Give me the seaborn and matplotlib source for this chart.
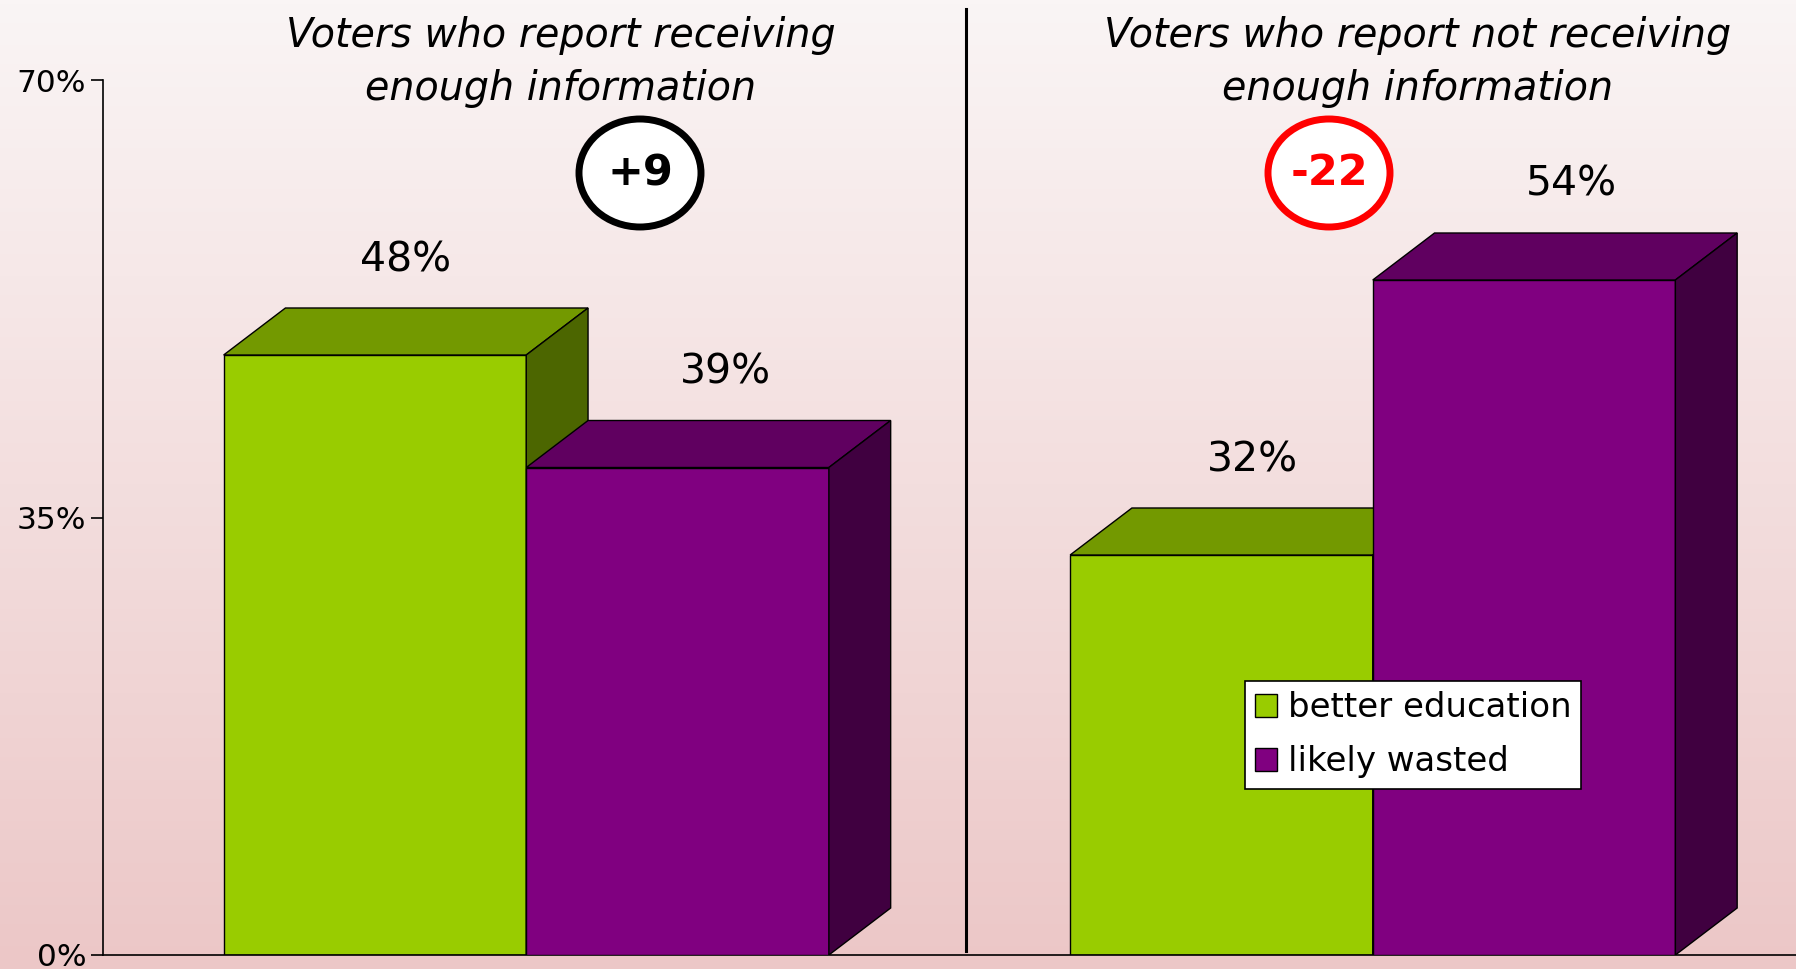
import numpy as np
import pandas as pd
import matplotlib
matplotlib.use('Agg')
import matplotlib.pyplot as plt
import seaborn as sns
from matplotlib.patches import Polygon, Ellipse, Patch
from matplotlib.colors import LinearSegmentedColormap

plt.rcParams['font.family'] = ['DejaVu Sans']

# data
groups = ['Voters who report receiving\nenough information',
          'Voters who report not receiving\nenough information']
series = ['better education', 'likely wasted']
better_education = [48, 32]
likely_wasted = [39, 54]
diff_labels = ['+9', '-22']
diff_colors = ['black', 'red']
yticks = [0, 35, 70]

# colours: front / top / side faces of the 3d bars
front_colors = ['#99CC00', '#800080']
top_colors = ['#739900', '#600060']
side_colors = ['#4C6600', '#400040']
label_shift = [0.0, 0.02]   # extra nudge of the value labels per series

df = pd.DataFrame({
    'group': groups * 2,
    'series': [series[0]] * 2 + [series[1]] * 2,
    'value': better_education + likely_wasted,
})

W, H = 1796, 969
fig = plt.figure(figsize=(W / 100, H / 100), dpi=100)

# gradient background
bg = fig.add_axes([0, 0, 1, 1], zorder=-10)
grad = np.linspace(0, 1, 256).reshape(-1, 1)
cmap = LinearSegmentedColormap.from_list('bg', ['#FAF5F5', '#ECC7C7'])
bg.imshow(grad, aspect='auto', cmap=cmap, extent=[0, 1, 0, 1], origin='upper')
bg.axis('off')

ax = fig.add_axes([103 / W, 14 / H, 1 - 103 / W, 875 / H])
ax.patch.set_alpha(0)

sns.barplot(data=df, x='group', y='value', hue='series', hue_order=series,
            palette=front_colors, width=0.715, saturation=1, errorbar=None,
            edgecolor='black', linewidth=1, legend=False, ax=ax)

ax.set_xlim(-0.5, 1.5)
ax.set_ylim(0, 70)

# fake 3d depth (data units)
dx = 0.073
dy = 3.76
n_groups = len(groups)
for k, bar in enumerate(ax.patches):
    hi = k // n_groups
    x0 = bar.get_x()
    w = bar.get_width()
    h = bar.get_height()
    x1 = x0 + w
    z = 2 + hi
    bar.set_zorder(z)
    top = Polygon([(x0, h), (x1, h), (x1 + dx, h + dy), (x0 + dx, h + dy)],
                  closed=True, fc=top_colors[hi], ec='black', lw=1, zorder=z)
    side = Polygon([(x1, 0), (x1 + dx, dy), (x1 + dx, h + dy), (x1, h)],
                   closed=True, fc=side_colors[hi], ec='black', lw=1, zorder=z)
    ax.add_patch(top)
    ax.add_patch(side)
    ax.text(x0 + w / 2 + dx / 2 + label_shift[hi], h + 7.6, f'{h:.0f}%',
            ha='center', va='center', fontsize=29.5, zorder=5)

# separator between the two groups
ax.axvline(0.52, ymin=0.005, ymax=1.081, color='black', lw=2.2, clip_on=False)

ax.set_yticks(yticks)
ax.set_yticklabels([f'{t}%' for t in yticks])
ax.set_xticks([])
ax.set_xlabel('')
ax.set_ylabel('')
ax.tick_params(axis='y', length=9, width=1.2, labelsize=22.5, pad=3)
for s in ['top', 'right']:
    ax.spines[s].set_visible(False)
for s in ['left', 'bottom']:
    ax.spines[s].set_color('black')
    ax.spines[s].set_linewidth(1.2)

# group titles
title_x = [561, 1418]
for tx, g in zip(title_x, groups):
    fig.text(tx / W, 1 - 62 / H, g, ha='center', va='center', style='italic',
             fontsize=28.5, linespacing=1.42)

# difference circles
circle_x = [640, 1329]
for cx, lab, col in zip(circle_x, diff_labels, diff_colors):
    fig.add_artist(Ellipse((cx / W, 1 - 173 / H), 122 / W, 108 / H,
                           transform=fig.transFigure, fc='white', ec=col, lw=5))
    fig.text(cx / W, 1 - 173 / H, lab, ha='center', va='center',
             fontsize=31, fontweight='bold', color=col)

# legend
handles = [Patch(facecolor=c, edgecolor='black', label=s)
           for c, s in zip(front_colors, series)]
leg = fig.legend(handles=handles, loc='upper left',
                 bbox_to_anchor=(1245 / W, 1 - 681 / H), fontsize=24.5,
                 frameon=True, fancybox=False, framealpha=1, edgecolor='black',
                 borderaxespad=0, borderpad=0.3, handlelength=0.65,
                 handleheight=0.65, handletextpad=0.3, labelspacing=0.62)
leg.get_frame().set_linewidth(1.2)

fig.savefig('out.png', dpi=100)
